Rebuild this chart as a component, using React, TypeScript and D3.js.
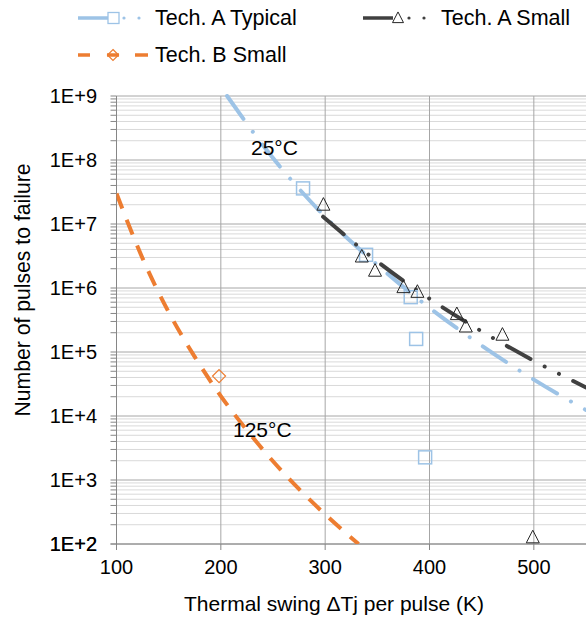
import React from "react";
import * as d3 from "d3";

// Measured failure points
const typicalPoints: [number, number][] = [
  [278.8, 3.6e7],
  [339.2, 3.3e6],
  [382, 7.2e5],
  [387.2, 1.6e5],
  [395.8, 2.26e3],
];
const smallPoints: [number, number][] = [
  [298.3, 2.0e7],
  [335.1, 3.1e6],
  [347.8, 1.86e6],
  [375, 1.03e6],
  [388.4, 8.7e5],
  [426.2, 3.9e5],
  [434.8, 2.5e5],
  [469.9, 1.86e5],
  [499, 1.27e2],
];
const techBPoints: [number, number][] = [[198.3, 4.2e4]];

// Fitted trend curves
const typicalTrend: [number, number][] = [
  [206, 1e9],
  [250, 1.07e8],
  [300, 1.3e7],
  [350, 2.3e6],
  [400, 4.9e5],
  [450, 1.26e5],
  [500, 3.7e4],
  [550, 1.24e4],
];
const smallTrend: [number, number][] = [
  [298, 1.3e7],
  [350, 2.6e6],
  [400, 6.8e5],
  [450, 2.1e5],
  [500, 7.3e4],
  [550, 2.8e4],
];
const techBTrend: [number, number][] = [
  [100, 3.0e7],
  [125, 2.9e6],
  [150, 4.2e5],
  [175, 8.4e4],
  [200, 2.05e4],
  [225, 6.0e3],
  [250, 1.96e3],
  [275, 7.2e2],
  [300, 2.9e2],
  [332, 1e2],
];

const xTicks = [100, 200, 300, 400, 500];
const yDecades = [2, 3, 4, 5, 6, 7, 8, 9];

const BLUE = "#9DC3E6";
const DARK = "#404040";
const ORANGE = "#ED7D31";
const FONT = "'Liberation Sans', Arial, sans-serif";

const W = 586;
const H = 617;
const L = 116.5;
const R = 586;
const T = 96;
const B = 544;

export default function App() {
  const x = d3.scaleLinear().domain([100, 550]).range([L, R]);
  const y = d3.scaleLog().domain([1e2, 1e9]).range([B, T]);

  const line = d3
    .line<[number, number]>()
    .x((d) => x(d[0]))
    .y((d) => y(d[1]))
    .curve(d3.curveMonotoneX);

  const minorTicks: number[] = [];
  for (let e = 2; e < 9; e++) {
    for (let m = 2; m <= 9; m++) minorTicks.push(m * Math.pow(10, e));
  }

  const tri = (cx: number, cy: number, s = 13) =>
    `M${cx},${cy - s * 0.55}L${cx + s / 2},${cy + s * 0.42}L${cx - s / 2},${cy + s * 0.42}Z`;
  const dia = (cx: number, cy: number, s = 13) =>
    `M${cx},${cy - s / 2}L${cx + s / 2},${cy}L${cx},${cy + s / 2}L${cx - s / 2},${cy}Z`;

  return (
    <div style={{ position: "absolute", left: 0, top: 0 }}>
      <svg width={W} height={H} style={{ display: "block", background: "#fff" }} fontFamily={FONT}>
        <defs>
          <clipPath id="plot">
            <rect x={L} y={T - 2} width={R - L} height={B - T + 2} />
          </clipPath>
        </defs>

        {/* minor horizontal grid */}
        {minorTicks.map((v) => (
          <line key={"mg" + v} x1={L} x2={R} y1={y(v)} y2={y(v)} stroke="#D9D9D9" strokeWidth={1} />
        ))}
        {/* major horizontal grid */}
        {yDecades.map((e) => (
          <line
            key={"Mg" + e}
            x1={L}
            x2={R}
            y1={y(Math.pow(10, e))}
            y2={y(Math.pow(10, e))}
            stroke="#A6A6A6"
            strokeWidth={1}
          />
        ))}
        {/* vertical grid */}
        {xTicks.slice(1).map((v) => (
          <line key={"vg" + v} x1={x(v)} x2={x(v)} y1={T} y2={B} stroke="#A6A6A6" strokeWidth={1} />
        ))}

        {/* axes */}
        <line x1={L} x2={L} y1={T} y2={B} stroke="#868686" strokeWidth={1} />
        <line x1={L} x2={R} y1={B} y2={B} stroke="#868686" strokeWidth={1} />
        {minorTicks.map((v) => (
          <line key={"mt" + v} x1={L - 6} x2={L} y1={y(v)} y2={y(v)} stroke="#868686" strokeWidth={1} />
        ))}
        {[2, ...yDecades].map((e) => (
          <line
            key={"Mt" + e}
            x1={L - 6}
            x2={L}
            y1={y(Math.pow(10, e))}
            y2={y(Math.pow(10, e))}
            stroke="#868686"
            strokeWidth={1}
          />
        ))}
        {xTicks.map((v) => (
          <line key={"xt" + v} x1={x(v)} x2={x(v)} y1={B} y2={B + 6} stroke="#868686" strokeWidth={1} />
        ))}

        {/* tick labels */}
        {[2, ...yDecades].map((e) => (
          <text
            key={"yl" + e}
            x={97}
            y={y(Math.pow(10, e))}
            textAnchor="end"
            dominantBaseline="central"
            fontSize={20}
            fill="#000"
          >
            {`1E+${e}`}
          </text>
        ))}
        {xTicks.map((v) => (
          <text key={"xl" + v} x={x(v)} y={567} textAnchor="middle" dominantBaseline="central" fontSize={20}>
            {v}
          </text>
        ))}

        {/* axis titles */}
        <text x={334} y={603} textAnchor="middle" dominantBaseline="central" fontSize={21}>
          Thermal swing ΔTj per pulse (K)
        </text>
        <text
          transform={`translate(22,290) rotate(-90)`}
          textAnchor="middle"
          dominantBaseline="central"
          fontSize={21.2}
        >
          Number of pulses to failure
        </text>

        {/* trend curves */}
        <g clipPath="url(#plot)" fill="none">
          <path
            d={line(typicalTrend) || ""}
            stroke={BLUE}
            strokeWidth={4}
            strokeLinecap="round"
            strokeDasharray="28 16 0.01 16"
          />
          <path
            d={line(smallTrend) || ""}
            stroke={DARK}
            strokeWidth={4}
            strokeLinecap="round"
            strokeDasharray="27 16 0.01 16 0.01 16"
          />
          <path d={line(techBTrend) || ""} stroke={ORANGE} strokeWidth={4} strokeDasharray="16 12" />
        </g>

        {/* markers */}
        {typicalPoints.map((d, i) => (
          <rect
            key={"sq" + i}
            x={x(d[0]) - 6.5}
            y={y(d[1]) - 6.5}
            width={13}
            height={13}
            fill="none"
            stroke={BLUE}
            strokeWidth={1.5}
          />
        ))}
        {smallPoints.map((d, i) => (
          <path key={"tr" + i} d={tri(x(d[0]), y(d[1]))} fill="none" stroke="#262626" strokeWidth={1} />
        ))}
        {techBPoints.map((d, i) => (
          <path key={"di" + i} d={dia(x(d[0]), y(d[1]))} fill="none" stroke={ORANGE} strokeWidth={1.2} />
        ))}

        {/* curve labels */}
        <text x={251} y={147} dominantBaseline="central" fontSize={21}>
          25°C
        </text>
        <text x={233} y={429} dominantBaseline="central" fontSize={21}>
          125°C
        </text>

        {/* legend */}
        <g>
          <line x1={78} x2={108} y1={18} y2={18} stroke={BLUE} strokeWidth={3.5} />
          <rect x={108} y={12.5} width={11} height={11} fill="none" stroke={BLUE} strokeWidth={1.3} />
          <circle cx={124} cy={18} r={1.6} fill={BLUE} />
          <circle cx={139} cy={18} r={1.6} fill={BLUE} />
          <text x={155} y={18} dominantBaseline="central" fontSize={21.5}>
            Tech. A Typical
          </text>

          <line x1={363} x2={393} y1={18} y2={18} stroke={DARK} strokeWidth={3.5} />
          <path d={tri(398, 18, 11)} fill="none" stroke="#262626" strokeWidth={1} />
          <circle cx={409} cy={18} r={1.6} fill={DARK} />
          <circle cx={424} cy={18} r={1.6} fill={DARK} />
          <text x={441} y={18} dominantBaseline="central" fontSize={21.5}>
            Tech. A Small
          </text>

          <line x1={78} x2={90} y1={55} y2={55} stroke={ORANGE} strokeWidth={3.5} />
          <line x1={107} x2={119} y1={55} y2={55} stroke={ORANGE} strokeWidth={3.5} />
          <line x1={135} x2={148} y1={55} y2={55} stroke={ORANGE} strokeWidth={3.5} />
          <path d={dia(113, 55, 11)} fill="none" stroke={ORANGE} strokeWidth={1.2} />
          <text x={155} y={55} dominantBaseline="central" fontSize={21.5}>
            Tech. B Small
          </text>
        </g>
      </svg>
    </div>
  );
}
